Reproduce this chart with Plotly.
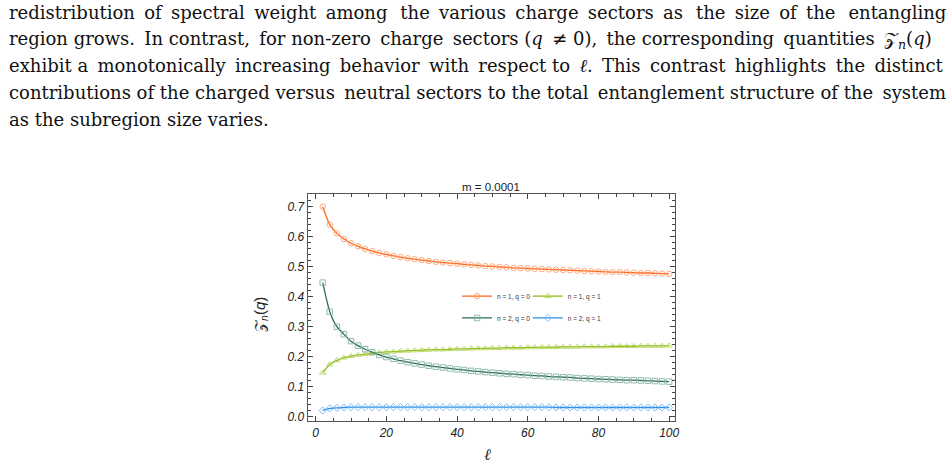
import plotly.graph_objects as go

# ---------------- data ----------------
ell = list(range(2, 101, 2))

z_n1_q0 = [0.700, 0.640, 0.611, 0.592, 0.578, 0.568, 0.559, 0.552, 0.546, 0.541,
           0.536, 0.532, 0.528, 0.525, 0.522, 0.519, 0.516, 0.514, 0.512, 0.510,
           0.508, 0.506, 0.504, 0.502, 0.501, 0.499, 0.498, 0.496, 0.495, 0.494,
           0.493, 0.492, 0.491, 0.490, 0.489, 0.488, 0.487, 0.486, 0.485, 0.484,
           0.483, 0.482, 0.482, 0.481, 0.480, 0.479, 0.479, 0.478, 0.477, 0.476]

z_n1_q1 = [0.147, 0.174, 0.188, 0.197, 0.202, 0.206, 0.209, 0.212, 0.214, 0.216,
           0.217, 0.219, 0.220, 0.221, 0.222, 0.223, 0.224, 0.224, 0.225, 0.226,
           0.226, 0.227, 0.228, 0.228, 0.229, 0.229, 0.230, 0.230, 0.230, 0.231,
           0.231, 0.232, 0.232, 0.232, 0.233, 0.233, 0.233, 0.234, 0.234, 0.234,
           0.234, 0.235, 0.235, 0.235, 0.235, 0.236, 0.236, 0.236, 0.236, 0.237]

z_n2_q0 = [0.447, 0.350, 0.300, 0.275, 0.252, 0.237, 0.225, 0.215, 0.206, 0.199,
           0.193, 0.187, 0.182, 0.178, 0.174, 0.170, 0.167, 0.164, 0.161, 0.158,
           0.156, 0.153, 0.151, 0.149, 0.147, 0.145, 0.143, 0.142, 0.140, 0.139,
           0.137, 0.136, 0.134, 0.133, 0.132, 0.131, 0.129, 0.128, 0.127, 0.126,
           0.125, 0.124, 0.123, 0.122, 0.122, 0.121, 0.120, 0.119, 0.118, 0.117]

z_n2_q1 = [0.021, 0.028, 0.030, 0.031, 0.032, 0.032, 0.032, 0.032, 0.032, 0.032,
           0.032, 0.032, 0.032, 0.032, 0.032, 0.032, 0.032, 0.032, 0.032, 0.032,
           0.032, 0.032, 0.032, 0.032, 0.032, 0.032, 0.032, 0.032, 0.032, 0.032,
           0.032, 0.032, 0.032, 0.031, 0.031, 0.031, 0.031, 0.031, 0.031, 0.031,
           0.031, 0.031, 0.031, 0.031, 0.031, 0.031, 0.031, 0.031, 0.031, 0.031]

series_names = ["n = 1, q = 0", "n = 1, q = 1", "n = 2, q = 0", "n = 2, q = 1"]
x_ticks = [0, 20, 40, 60, 80, 100]
y_ticks = [0.0, 0.1, 0.2, 0.3, 0.4, 0.5, 0.6, 0.7]
y_tick_labels = ["0.0", "0.1", "0.2", "0.3", "0.4", "0.5", "0.6", "0.7"]

paragraph = [
    "redistribution of spectral weight among the various charge sectors as the size of the entangling",
    "region grows. In contrast, for non-zero charge sectors (<i>q</i> ≠ 0), the corresponding quantities 𝒵<sub><i>n</i></sub>(<i>q</i>)",
    "exhibit a monotonically increasing behavior with respect to <i>ℓ</i>. This contrast highlights the distinct",
    "contributions of the charged versus neutral sectors to the total entanglement structure of the system",
    "as the subregion size varies.",
]
# number of extra thin spaces used to approximate the justified lines
extra_spaces = [17, 8, 11, 3, 0]


def justify(txt, k):
    parts = txt.split(" ")
    gaps = len(parts) - 1
    if k <= 0 or gaps == 0:
        return txt
    out = parts[0]
    for i in range(1, len(parts)):
        add = (i * k) // gaps - ((i - 1) * k) // gaps
        out += " " + "\u2009" * add + parts[i]
    return out


# ---------------- styles ----------------
styles = [
    dict(line="#FF6414", marker="#FF9E70", symbol="circle-open", legend="legend", pos=(459, 298)),
    dict(line="#8DBA14", marker="#B5D65E", symbol="triangle-up-open", legend="legend2", pos=(530, 298)),
    dict(line="#2D6A5E", marker="#84B3A6", symbol="square-open", legend="legend3", pos=(459, 320)),
    dict(line="#2A8CE8", marker="#6DB6F5", symbol="diamond-open", legend="legend4", pos=(530, 320)),
]
series = [z_n1_q0, z_n1_q1, z_n2_q0, z_n2_q1]

W, H = 952, 471
x0, x1 = 309, 678
y0, y1 = 195, 424

fig = go.Figure()
legends = {}
for name, ys, st in zip(series_names, series, styles):
    fig.add_trace(go.Scatter(
        x=ell, y=ys, name=name, mode="lines+markers",
        line=dict(color=st["line"], width=1.3, shape="spline", smoothing=0.6),
        marker=dict(symbol=st["symbol"], size=5.5, color=st["marker"],
                    line=dict(width=0.9, color=st["marker"])),
        legend=st["legend"],
    ))
    legends[st["legend"]] = dict(
        x=st["pos"][0] / W, y=1 - st["pos"][1] / H, xanchor="left", yanchor="middle",
        font=dict(family="Liberation Sans", size=6.5, color="#333"),
        bgcolor="rgba(0,0,0,0)", itemwidth=30)

axis_common = dict(
    showgrid=False, zeroline=False, showline=True, linecolor="#555",
    linewidth=1.2, mirror="allticks", ticks="inside", ticklen=5, tickwidth=1,
    tickcolor="#444",
    tickfont=dict(family="Liberation Sans", size=12, color="#222", style="italic"),
)

fig.update_layout(
    width=W, height=H,
    margin=dict(l=0, r=0, t=0, b=0),
    paper_bgcolor="white", plot_bgcolor="white",
    xaxis=dict(axis_common, domain=[x0 / W, x1 / W], range=[-2.25, 101.7],
               tickvals=x_ticks,
               minor=dict(dtick=5, tick0=0, ticks="inside", ticklen=3, tickcolor="#444")),
    yaxis=dict(axis_common, domain=[1 - y1 / H, 1 - y0 / H], range=[-0.015, 0.743],
               tickvals=y_ticks, ticktext=y_tick_labels,
               minor=dict(dtick=0.02, tick0=0, ticks="inside", ticklen=3, tickcolor="#444")),
    showlegend=True,
    **legends,
)

ann = []
# chart title
ann.append(dict(text="m = 0.0001", x=(x0 + x1) / 2 / W, y=1 - 188 / H, xref="paper", yref="paper",
                showarrow=False, xanchor="center", yanchor="middle",
                font=dict(family="Liberation Sans", size=11.5, color="#222")))
# y axis title
ann.append(dict(text="𝒵<sub><i>n</i></sub>(<i>q</i>)", x=262 / W, y=1 - 316 / H, xref="paper", yref="paper",
                showarrow=False, textangle=-90, xanchor="center", yanchor="middle",
                font=dict(family="Liberation Sans", size=15, color="#222")))
# x axis title
ann.append(dict(text="<i>ℓ</i>", x=490 / W, y=1 - 457 / H, xref="paper", yref="paper",
                showarrow=False, xanchor="center", yanchor="middle",
                font=dict(family="DejaVu Serif", size=16, color="#222")))
# paragraph text
line_y = [13, 40, 66, 93, 120]
for txt, k, yy in zip(paragraph, extra_spaces, line_y):
    ann.append(dict(text=justify(txt, k), x=7 / W, y=1 - yy / H, xref="paper", yref="paper",
                    showarrow=False, xanchor="left", yanchor="middle", align="left",
                    font=dict(family="DejaVu Serif", size=18, color="#111")))
fig.update_layout(annotations=ann)

fig.write_html("out.html")
